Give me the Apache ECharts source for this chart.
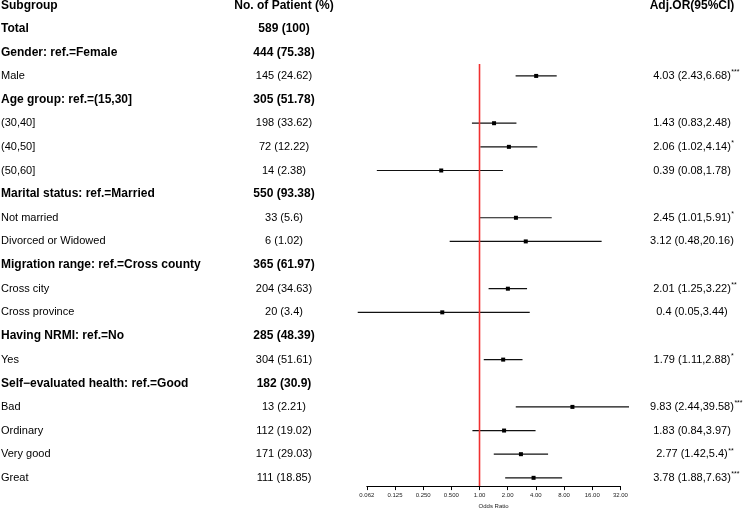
<!DOCTYPE html>
<html><head><meta charset="utf-8">
<script src="https://cdn.jsdelivr.net/npm/echarts@6/dist/echarts.min.js"></script>
<style>html,body{margin:0;padding:0;background:#fff}#c{width:752px;height:514px}</style>
</head><body><div id="c"></div>
<script>
const headers = ['Subgroup', 'No. of Patient (%)', 'Adj.OR(95%CI)'];
const rowLabels = ['Total', 'Gender: ref.=Female', 'Male', 'Age group: ref.=(15,30]', '(30,40]', '(40,50]', '(50,60]',
  'Marital status: ref.=Married', 'Not married', 'Divorced or Widowed', 'Migration range: ref.=Cross county',
  'Cross city', 'Cross province', 'Having NRMI: ref.=No', 'Yes', 'Self\u2212evaluated health: ref.=Good',
  'Bad', 'Ordinary', 'Very good', 'Great'];
const isBold = [true, true, false, true, false, false, false, true, false, false, true, false, false, true, false, true, false, false, false, false];
const patientN = [589, 444, 145, 305, 198, 72, 14, 550, 33, 6, 365, 204, 20, 285, 304, 182, 13, 112, 171, 111];
const patientPct = [100, 75.38, 24.62, 51.78, 33.62, 12.22, 2.38, 93.38, 5.6, 1.02, 61.97, 34.63, 3.4, 48.39, 51.61, 30.9, 2.21, 19.02, 29.03, 18.85];
const oddsRatio = [null, null, 4.03, null, 1.43, 2.06, 0.39, null, 2.45, 3.12, null, 2.01, 0.4, null, 1.79, null, 9.83, 1.83, 2.77, 3.78];
const ciLower = [null, null, 2.43, null, 0.83, 1.02, 0.08, null, 1.01, 0.48, null, 1.25, 0.05, null, 1.11, null, 2.44, 0.84, 1.42, 1.88];
const ciUpper = [null, null, 6.68, null, 2.48, 4.14, 1.78, null, 5.91, 20.16, null, 3.22, 3.44, null, 2.88, null, 39.58, 3.97, 5.4, 7.63];
const stars = ['', '', '***', '', '', '*', '', '', '*', '', '', '**', '', '', '*', '', '***', '', '**', '***'];
const tickLabels = ['0.062', '0.125', '0.250', '0.500', '1.00', '2.00', '4.00', '8.00', '16.00', '32.00'];
const refValue = 1;

const FONT = '"Liberation Sans", Arial, Helvetica, sans-serif';
const Y_MAX = 20.35;
const REF_TOP = 2.5;
const COL1_X = 1, COL2_X = 284, COL3_X = 692;

const measureCtx = document.createElement('canvas').getContext('2d');
function textWidth(t, font) { measureCtx.font = font; return measureCtx.measureText(t).width; }

const chart = echarts.init(document.getElementById('c'), null, {renderer: 'canvas'});

const tableData = [[1, 0]].concat(rowLabels.map((_, k) => [1, k + 1]));
const ciData = [];
oddsRatio.forEach((v, k) => { if (v != null) ciData.push([ciLower[k], ciUpper[k], v, k + 1]); });

function txt(text, x, y, bold, align, size) {
  const font = (bold ? 'bold ' : '') + (size || (bold ? 12 : 11)) + 'px ' + FONT;
  return {type: 'text', style: {text: text, x: x, y: y, align: align, verticalAlign: 'middle', font: font, fill: '#000'}};
}

const option = {
  animation: false,
  backgroundColor: '#fff',
  grid: {left: 366.8, width: 253.6, top: 5, height: 488.4},
  xAxis: {
    type: 'log', logBase: 2, min: 0.0625, max: 32, splitNumber: 9, position: 'bottom',
    axisLine: {show: true, onZero: false, lineStyle: {color: '#000', width: 1}},
    axisTick: {show: true, inside: false, length: 4, lineStyle: {color: '#000', width: 1}},
    axisLabel: {fontSize: 6, color: '#222', fontFamily: FONT, margin: 6,
      formatter: (v, i) => tickLabels[i] !== undefined ? tickLabels[i] : ''},
    splitLine: {show: false},
    name: 'Odds Ratio', nameLocation: 'middle', nameGap: 15,
    nameTextStyle: {fontSize: 6, color: '#222', fontFamily: FONT}
  },
  yAxis: {type: 'value', inverse: true, min: 0, max: Y_MAX, show: false, splitLine: {show: false}},
  series: [
    {
      type: 'custom', name: 'table', data: tableData, clip: false, silent: true,
      encode: {x: 0, y: 1},
      renderItem: function (params, api) {
        const i = params.dataIndex;
        const y = api.coord([1, api.value(1)])[1];
        if (i === 0) {
          return {type: 'group', children: [
            txt(headers[0], COL1_X, y + 1, true, 'left'),
            txt(headers[1], COL2_X, y + 1, true, 'center'),
            txt(headers[2], COL3_X, y + 1, true, 'center')
          ]};
        }
        const k = i - 1;
        const ch = [
          txt(rowLabels[k], COL1_X, y, isBold[k], 'left'),
          txt(patientN[k] + ' (' + patientPct[k] + ')', COL2_X, y, isBold[k], 'center')
        ];
        if (oddsRatio[k] != null) {
          const main = oddsRatio[k] + ' (' + ciLower[k] + ',' + ciUpper[k] + ')';
          ch.push(txt(main, COL3_X, y, false, 'center'));
          if (stars[k]) {
            const w = textWidth(main, '11px ' + FONT);
            ch.push(txt(stars[k], COL3_X + w / 2 + 0.5, y - 3.5, false, 'left', 7));
          }
        }
        return {type: 'group', children: ch};
      }
    },
    {
      type: 'custom', name: 'ci', data: ciData, clip: false, silent: true,
      encode: {x: [0, 1, 2], y: 3},
      z: 3,
      renderItem: function (params, api) {
        const row = api.value(3);
        const p1 = api.coord([api.value(0), row]);
        const p2 = api.coord([api.value(1), row]);
        const pc = api.coord([api.value(2), row]);
        return {type: 'group', children: [
          {type: 'line', shape: {x1: p1[0], y1: p1[1], x2: p2[0], y2: p2[1]},
            style: {stroke: '#111', lineWidth: 1.2}},
          {type: 'rect', shape: {x: pc[0] - 2, y: pc[1] - 2, width: 4, height: 4},
            style: {fill: '#000'}}
        ]};
      }
    },
    {
      type: 'custom', name: 'ref', z: 5, silent: true, clip: false,
      data: [[refValue, REF_TOP, Y_MAX]],
      encode: {x: 0, y: [1, 2]},
      renderItem: function (params, api) {
        const a = api.coord([api.value(0), api.value(1)]);
        const b = api.coord([api.value(0), api.value(2)]);
        return {type: 'line', shape: {x1: a[0], y1: a[1], x2: a[0], y2: b[1]},
          style: {stroke: '#f03030', lineWidth: 1.6}};
      }
    }
  ]
};
chart.setOption(option);
</script>
</body></html>
